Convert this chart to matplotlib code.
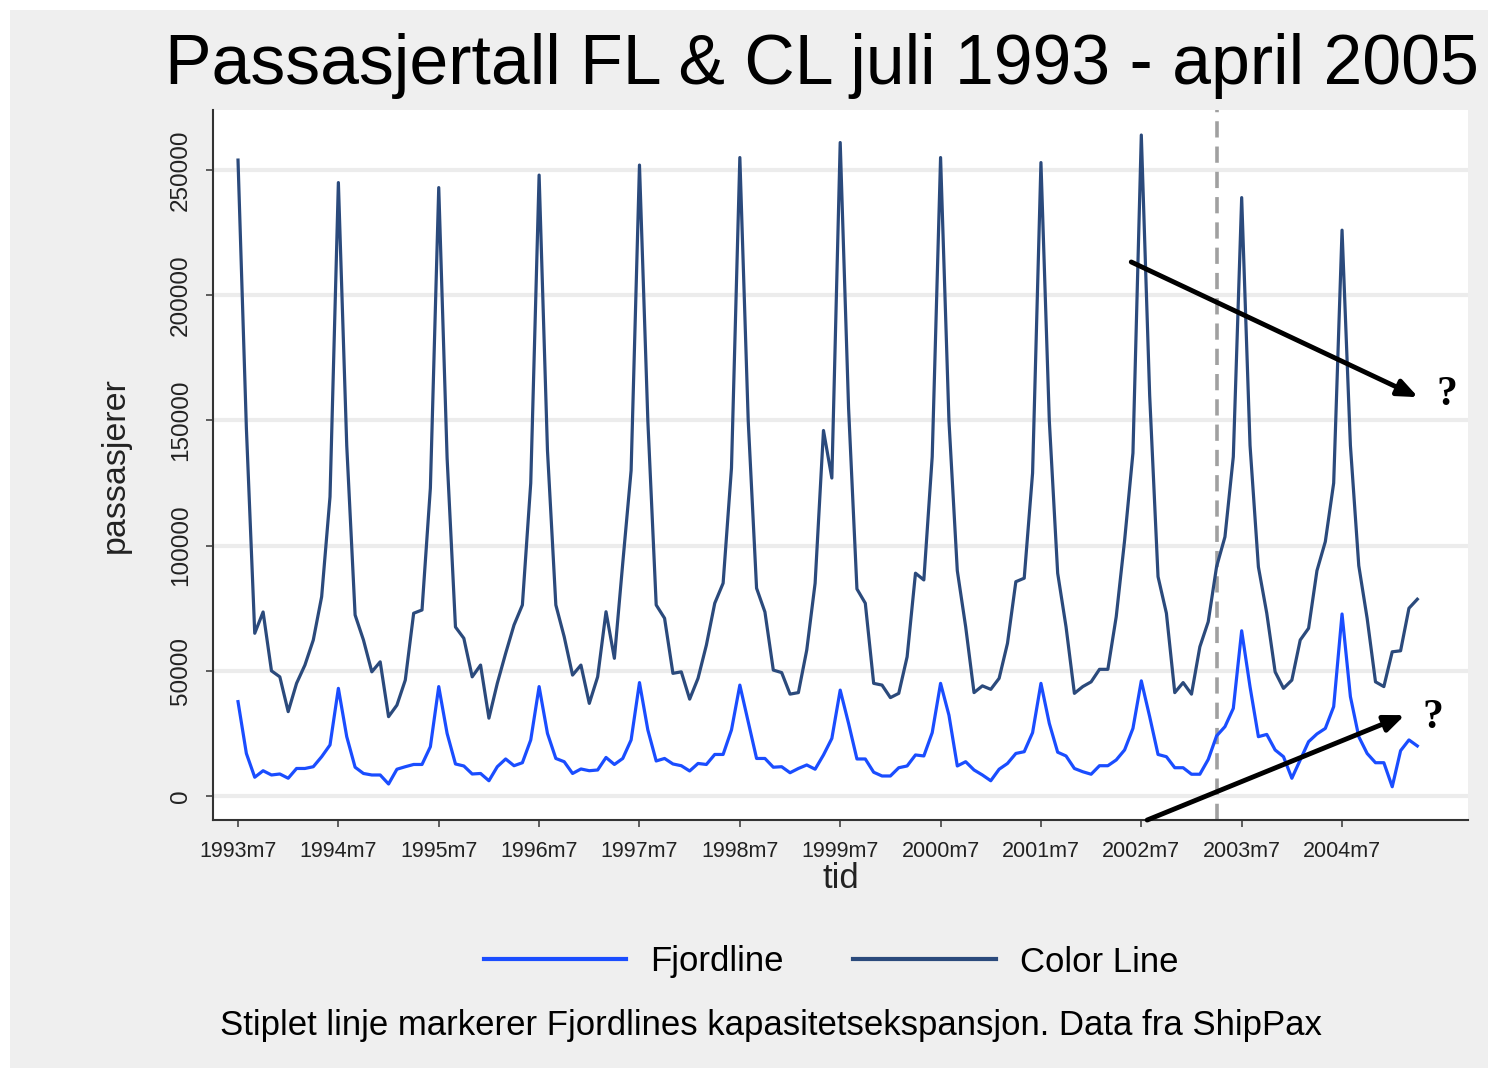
import matplotlib
matplotlib.use("Agg")
import matplotlib.pyplot as plt
from matplotlib.patches import Rectangle
import numpy as np

# ---------------- data (monthly, 1993m7 .. 2005m4) ----------------
color_line = [
    254, 147, 65, 73.5, 50, 47.6, 33.7, 45, 52.3, 62.3, 79.6, 119.5,
    245, 140, 72.3, 62.3, 49.6, 53.6, 31.7, 36.3, 46.3, 73, 74.3, 123,
    243, 135, 67.5, 63, 47.6, 52.3, 31.1, 45, 57, 68.3, 76.3, 125,
    248, 138, 76.3, 63.6, 48.3, 52.3, 37, 47.6, 73.6, 55, 93, 130,
    252, 150, 76.3, 71, 49, 49.6, 38.7, 47, 60.3, 77, 85, 131,
    255, 150, 83, 73.5, 50.3, 49.3, 40.7, 41.3, 58.3, 85, 146, 127,
    261, 155, 82.7, 77, 45, 44.3, 39.3, 41, 55.6, 89, 86.3, 135.5,
    255, 150, 90, 67.6, 41.3, 44, 42.6, 47, 61, 85.6, 87, 129,
    253, 150, 89, 67.6, 41, 43.7, 45.6, 50.6, 50.6, 71.6, 102, 137,
    264, 160, 87.6, 73, 41.3, 45.3, 40.7, 59.6, 69.6, 91.6, 103.5, 135.5,
    239, 140, 91.5, 73, 49.6, 43, 46.3, 62.3, 67, 90, 101.6, 125,
    226, 140, 92, 71, 45.6, 43.7, 57.6, 58, 75, 78.6,
]
fjordline = [
    37.7, 17, 7.5, 10.1, 8.4, 8.8, 7.1, 11, 11, 11.7, 15.7, 20.4,
    43, 23.7, 11.5, 9, 8.4, 8.4, 4.8, 10.7, 11.7, 12.6, 12.6, 19.7,
    43.7, 25, 12.8, 12, 8.8, 9, 6.1, 11.7, 14.8, 12.1, 13.3, 22.4,
    43.7, 25, 15, 13.7, 9, 10.8, 10.1, 10.4, 15.4, 12.6, 15, 22.4,
    45.3, 26.4, 14, 15, 12.8, 12.1, 10, 13, 12.6, 16.6, 16.6, 26.4,
    44.3, 29.7, 15, 15, 11.5, 11.7, 9.3, 11, 12.4, 10.7, 16.4, 23,
    42.3, 29, 14.8, 14.8, 9.5, 8, 8, 11.3, 12, 16.4, 16, 25.3,
    45, 32.3, 12, 13.7, 10.4, 8.4, 6.1, 10.7, 13, 17, 17.7, 25.3,
    45, 29, 17.5, 16, 11, 9.7, 8.7, 12.1, 12.1, 14.4, 18.4, 27,
    46, 31.7, 16.6, 15.7, 11.3, 11.3, 8.7, 8.7, 14.6, 24, 27.7, 35,
    66, 43.6, 23.7, 24.6, 18.4, 15.7, 7.1, 14.4, 21.7, 24.8, 27, 35.7,
    72.7, 39.7, 23.7, 17, 13.3, 13.3, 3.7, 18.1, 22.4, 20,
]
color_line = [v * 1000 for v in color_line]
fjordline = [v * 1000 for v in fjordline]
months = np.arange(len(color_line))          # 0 = 1993m7
xtick_pos = list(range(0, 133, 12))
xtick_labels = [f"{y}m7" for y in range(1993, 2005)]
ytick_vals = [0, 50000, 100000, 150000, 200000, 250000]
expansion_month = 117                          # 2003m4

# ---------------- figure ----------------
W, H = 1490, 1069
fig = plt.figure(figsize=(W / 100, H / 100), dpi=100)
fig.patch.set_facecolor("white")
fig.patches.append(Rectangle((10 / W, 1 - 1068 / H), 1478 / W, 1058 / H,
                             transform=fig.transFigure, facecolor="#efefef",
                             edgecolor="none", zorder=-10))
plt.rcParams["font.family"] = ["Liberation Sans", "DejaVu Sans"]

ax = fig.add_axes([213 / W, 1 - 820 / H, 1255 / W, 710 / H])
ax.set_facecolor("white")

FL_C = "#1a4dff"
CL_C = "#2b4a7c"
ax.plot(months, fjordline, color=FL_C, lw=2.3, label="Fjordline", zorder=3)
ax.plot(months, color_line, color=CL_C, lw=2.3, label="Color Line", zorder=3)
ax.axvline(expansion_month, color="#a0a0a0", lw=2.6, ls=(0, (4.5, 2.5)), zorder=2)

ax.set_xlim(-2.99, 147.06)
ax.set_ylim(-9580, 274000)
ax.set_yticks(ytick_vals)
ax.set_yticklabels([str(v) for v in ytick_vals], rotation=90, va="center",
                   fontsize=17.5, color="#222222")
ax.set_xticks(xtick_pos)
ax.set_xticklabels(xtick_labels, fontsize=15.5, color="#222222")
ax.grid(axis="y", color="#ececec", lw=3)
ax.set_axisbelow(True)
ax.tick_params(axis="both", direction="out", length=5, width=1.2, color="#444444")
ax.tick_params(axis="y", pad=10)
ax.tick_params(axis="x", pad=10)
for s in ["top", "right"]:
    ax.spines[s].set_visible(False)
for s in ["left", "bottom"]:
    ax.spines[s].set_color("#333333")
    ax.spines[s].set_linewidth(1.5)

ax.set_ylabel("passasjerer", fontsize=24.5, labelpad=28, color="#222222")
ax.set_xlabel("tid", fontsize=25, labelpad=0, color="#222222")

# annotation arrows and question marks
ax.annotate("", xy=(141.1, 159300), xytext=(106.8, 213300),
            arrowprops=dict(arrowstyle="-|>,head_length=1.2,head_width=0.5",
                            color="black", lw=3.5, shrinkA=0, shrinkB=0),
            annotation_clip=False, zorder=5)
ax.annotate("", xy=(139.5, 32300), xytext=(108.7, -9600),
            arrowprops=dict(arrowstyle="-|>,head_length=1.2,head_width=0.5",
                            color="black", lw=3.5, shrinkA=0, shrinkB=0),
            annotation_clip=False, zorder=5)
ax.text(144.5, 160000, "?", fontsize=30, fontweight="bold",
        family=["Liberation Serif", "DejaVu Serif"], ha="center", va="center", zorder=5)
ax.text(142.9, 31000, "?", fontsize=30, fontweight="bold",
        family=["Liberation Serif", "DejaVu Serif"], ha="center", va="center", zorder=5)

# title
fig.text(822 / W, 1 - 66 / H, "Passasjertall FL & CL juli 1993 - april 2005",
         fontsize=50.2, ha="center", va="center", color="black")

# legend
leg = fig.legend(loc="center", bbox_to_anchor=(831 / W, 1 - 962 / H), ncol=2,
                 frameon=False, fontsize=25, handlelength=4.1, columnspacing=2.0,
                 handletextpad=0.7)
for line in leg.get_lines():
    line.set_linewidth(3)

# caption
fig.text(771 / W, 1 - 1025 / H,
         "Stiplet linje markerer Fjordlines kapasitetsekspansjon. Data fra ShipPax",
         fontsize=25, ha="center", va="center", color="black")

fig.savefig("out.png", dpi=100, facecolor=fig.get_facecolor())
